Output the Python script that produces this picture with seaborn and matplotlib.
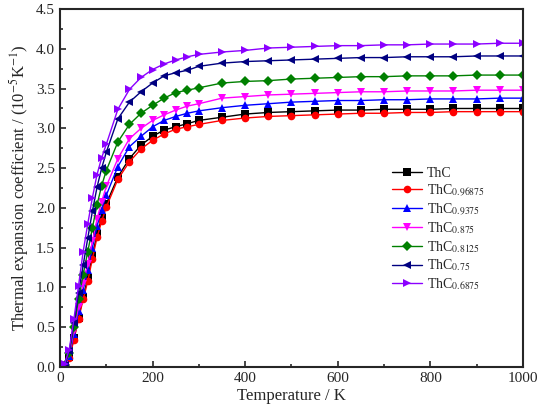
"""
Koefisien ekspansi termal ThC_x terhadap temperatur.
"""

import matplotlib

matplotlib.use("Agg")
import matplotlib.pyplot as plt
import numpy as np
import pandas as pd
import seaborn as sns
from matplotlib.ticker import MultipleLocator


TEMPERATURE = [0, 10, 20, 30, 40, 50, 60, 70, 80, 90, 100,
               125, 150, 175, 200, 225, 250, 275, 300,
               350, 400, 450, 500, 550, 600, 650, 700, 750, 800, 850, 900, 950, 1000]

THC = [0, 0.02, 0.12, 0.36, 0.62, 0.88, 1.12, 1.40, 1.67, 1.87, 2.05,
       2.39, 2.62, 2.79, 2.90, 2.98, 3.02, 3.06, 3.10,
       3.14, 3.18, 3.20, 3.21, 3.22, 3.23, 3.23, 3.24, 3.24, 3.24, 3.25, 3.25, 3.25, 3.25]
THC_096875 = [0, 0.02, 0.11, 0.34, 0.60, 0.85, 1.08, 1.36, 1.63, 1.83, 2.01,
              2.36, 2.58, 2.74, 2.85, 2.93, 2.99, 3.02, 3.05,
              3.10, 3.13, 3.15, 3.16, 3.17, 3.18, 3.19, 3.19, 3.20, 3.20, 3.21, 3.21, 3.21, 3.21]
THC_09375 = [0, 0.02, 0.14, 0.41, 0.70, 0.97, 1.22, 1.50, 1.77, 1.98, 2.16,
             2.52, 2.77, 2.90, 3.02, 3.10, 3.15, 3.19, 3.22,
             3.26, 3.29, 3.31, 3.33, 3.34, 3.35, 3.35, 3.36, 3.36, 3.37, 3.37, 3.37, 3.38, 3.38]
THC_0875 = [0, 0.03, 0.16, 0.45, 0.76, 1.04, 1.30, 1.58, 1.86, 2.08, 2.27,
            2.62, 2.87, 3.00, 3.10, 3.17, 3.23, 3.28, 3.31,
            3.38, 3.40, 3.42, 3.43, 3.44, 3.45, 3.46, 3.46, 3.47, 3.47, 3.47, 3.48, 3.48, 3.48]
THC_08125 = [0, 0.03, 0.18, 0.50, 0.85, 1.16, 1.45, 1.75, 2.04, 2.28, 2.47,
             2.83, 3.05, 3.19, 3.29, 3.38, 3.45, 3.48, 3.51,
             3.57, 3.59, 3.60, 3.62, 3.63, 3.64, 3.65, 3.65, 3.66, 3.66, 3.66, 3.67, 3.67, 3.67]
THC_075 = [0, 0.03, 0.20, 0.55, 0.93, 1.28, 1.62, 1.96, 2.26, 2.50, 2.70,
           3.12, 3.33, 3.46, 3.57, 3.66, 3.70, 3.73, 3.78,
           3.82, 3.84, 3.85, 3.86, 3.87, 3.88, 3.89, 3.89, 3.90, 3.90, 3.90, 3.91, 3.91, 3.91]
THC_06875 = [0, 0.04, 0.22, 0.60, 1.02, 1.45, 1.80, 2.13, 2.42, 2.63, 2.80,
             3.24, 3.49, 3.64, 3.74, 3.81, 3.86, 3.90, 3.93,
             3.96, 3.98, 4.01, 4.02, 4.03, 4.04, 4.04, 4.05, 4.05, 4.06, 4.06, 4.06, 4.07, 4.07]

LABELS = ["ThC", "ThC$_{0.96875}$", "ThC$_{0.9375}$", "ThC$_{0.875}$",
          "ThC$_{0.8125}$", "ThC$_{0.75}$", "ThC$_{0.6875}$"]
SERIES = [THC, THC_096875, THC_09375, THC_0875, THC_08125, THC_075, THC_06875]
COLORS = ["black", "red", "blue", "#FF00FF", "#008000", "#000080", "#8B00FF"]
MARKERS = ["s", "o", "^", "v", "D", "<", ">"]


def main() -> None:
    sns.set_theme(style="ticks")
    plt.rcParams["font.family"] = ["Liberation Serif", "DejaVu Serif"]
    plt.rcParams["mathtext.fontset"] = "stix"

    fig = plt.figure(figsize=(5.43, 4.11), dpi=100)
    ax = fig.add_axes([0.1105, 0.107, 0.8525, 0.871])

    # Satu kurva per komposisi.
    for values, label, color, marker in zip(SERIES, LABELS, COLORS, MARKERS):
        df = pd.DataFrame({"T": TEMPERATURE, "alpha": values})
        sns.lineplot(data=df, x="T", y="alpha", ax=ax, color=color, marker=marker,
                     markersize=5.5, markeredgewidth=0, linewidth=1.0, label=label)

    ax.set_xlim(0, 1000)
    ax.set_ylim(0, 4.5)
    ax.xaxis.set_major_locator(MultipleLocator(200))
    ax.xaxis.set_minor_locator(MultipleLocator(100))
    ax.yaxis.set_major_locator(MultipleLocator(0.5))
    ax.yaxis.set_minor_locator(MultipleLocator(0.25))
    ax.tick_params(which="both", direction="in", labelsize=11, width=1.2)
    ax.tick_params(which="major", length=4)
    ax.tick_params(which="minor", length=2.5)
    for spine in ax.spines.values():
        spine.set_linewidth(1.5)
        spine.set_visible(True)

    ax.set_xlabel("Temperature / K", fontsize=12, labelpad=2)
    ax.set_ylabel("Thermal expansion coefficient / (10$^{-5}$K$^{-1}$)", fontsize=12, labelpad=4)

    ax.legend(loc="center left", bbox_to_anchor=(0.69, 0.385), frameon=False,
              fontsize=10, handlelength=2.2, labelspacing=0.2, handletextpad=0.3)

    fig.savefig("out.png", dpi=100)
    plt.close(fig)


if __name__ == "__main__":
    main()
